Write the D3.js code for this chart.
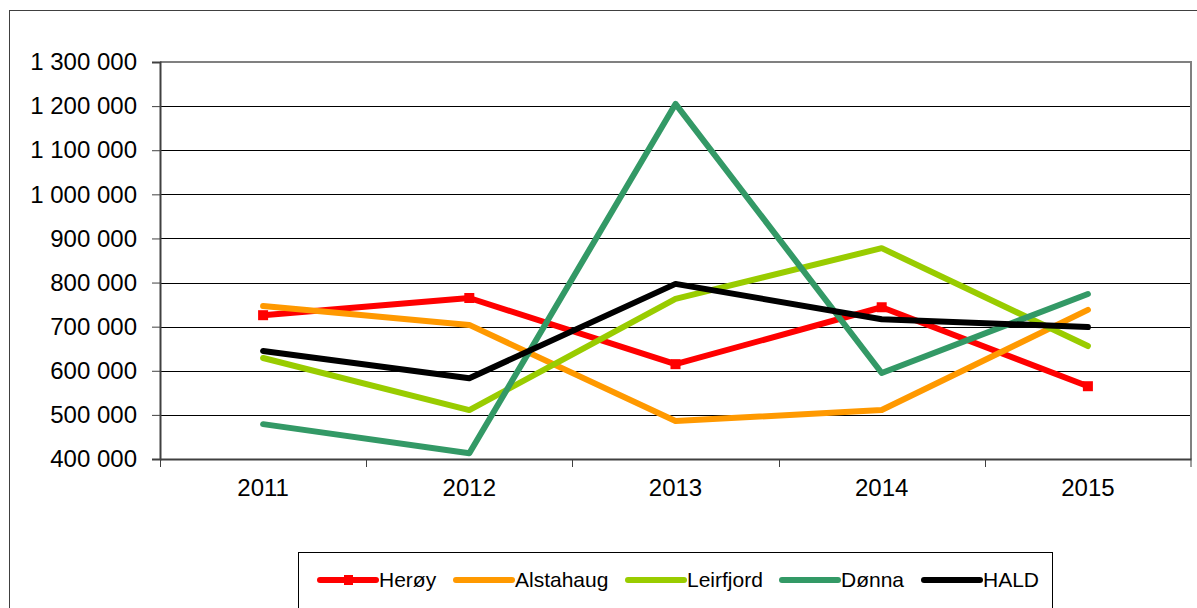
<!DOCTYPE html>
<html>
<head>
<meta charset="utf-8">
<script src="https://cdn.jsdelivr.net/npm/d3@7"></script>
<style>
  body { margin: 0; background: #fff; }
  svg { display: block; font-family: "Liberation Sans", Arial, sans-serif; }
</style>
</head>
<body>
<svg id="chart"></svg>
<script>
// Data: years and yearly values per municipality
const years = ["2011", "2012", "2013", "2014", "2015"];
const heroy = [726000, 765000, 615000, 744000, 565000];
const alstahaug = [747000, 704000, 486000, 511000, 738000];
const leirfjord = [629000, 511000, 763000, 878000, 656000];
const donna = [479000, 413000, 1205000, 595000, 774000];
const hald = [645000, 583000, 797000, 717000, 699000];
const yTicks = [400000, 500000, 600000, 700000, 800000, 900000, 1000000, 1100000, 1200000, 1300000];

const series = [
    { name: "Herøy", values: heroy, color: "#ff0000", marker: true },
    { name: "Alstahaug", values: alstahaug, color: "#ff9900", marker: false },
    { name: "Leirfjord", values: leirfjord, color: "#99cc00", marker: false },
    { name: "Dønna", values: donna, color: "#339966", marker: false },
    { name: "HALD", values: hald, color: "#000000", marker: false }
];

const width = 1197;
const height = 608;
const margin = { top: 62, right: 6, bottom: 149, left: 160 };

const svg = d3.select("#chart")
    .attr("width", width)
    .attr("height", height);

// outer chart frame (runs off the picture at right and bottom)
svg.append("rect")
    .attr("x", 9.5).attr("y", 10.5)
    .attr("width", width + 20).attr("height", height + 20)
    .attr("fill", "none").attr("stroke", "#404040").attr("stroke-width", 1);

const x = d3.scaleBand()
    .domain(years)
    .range([margin.left, width - margin.right]);

const y = d3.scaleLinear()
    .domain([400000, 1300000])
    .range([height - margin.bottom, margin.top]);

const fmt = v => d3.format(",")(v).replace(/,/g, " ");

// gridlines
svg.append("g")
    .selectAll("line")
    .data(yTicks.slice(1, -1))
    .join("line")
    .attr("x1", margin.left).attr("x2", width - margin.right)
    .attr("y1", d => Math.round(y(d)) + 0.5).attr("y2", d => Math.round(y(d)) + 0.5)
    .attr("stroke", "#000").attr("stroke-width", 1);

// plot area border (top and right)
svg.append("path")
    .attr("d", `M${margin.left},${y(1300000)}H${width - margin.right}V${y(400000)}`)
    .attr("fill", "none").attr("stroke", "#808080").attr("stroke-width", 2);

// y axis
const yAxis = svg.append("g")
    .attr("transform", `translate(${margin.left},0)`)
    .call(d3.axisLeft(y).tickValues(yTicks).tickFormat(fmt).tickSize(8).tickPadding(15));
yAxis.select(".domain").attr("stroke", "#404040").attr("stroke-width", 2);
yAxis.selectAll(".tick line").attr("stroke", "#404040");
yAxis.selectAll("text").style("font-size", "24px").attr("fill", "#000");

// x axis
const xAxis = svg.append("g")
    .attr("transform", `translate(0,${height - margin.bottom})`)
    .call(d3.axisBottom(x).tickSize(0).tickPadding(20));
xAxis.select(".domain").attr("stroke", "#404040").attr("stroke-width", 2);
xAxis.selectAll("text").style("font-size", "24px").attr("fill", "#000");

// tick marks between categories
svg.append("g")
    .selectAll("line")
    .data(years.concat(["end"]))
    .join("line")
    .attr("x1", (d, i) => i < years.length ? Math.round(x(d)) + 0.5 : width - margin.right)
    .attr("x2", (d, i) => i < years.length ? Math.round(x(d)) + 0.5 : width - margin.right)
    .attr("y1", height - margin.bottom)
    .attr("y2", height - margin.bottom + 8)
    .attr("stroke", "#404040").attr("stroke-width", 1);

const line = d3.line()
    .x((d, i) => x(years[i]) + x.bandwidth() / 2)
    .y(d => y(d));

// lines
series.forEach(s => {
    svg.append("path")
        .datum(s.values)
        .attr("d", line)
        .attr("fill", "none")
        .attr("stroke", s.color)
        .attr("stroke-width", 6)
        .attr("stroke-linejoin", "round")
        .attr("stroke-linecap", "round");
    if (s.marker) {
        svg.selectAll(null)
            .data(s.values)
            .join("rect")
            .attr("x", (d, i) => x(years[i]) + x.bandwidth() / 2 - 5)
            .attr("y", d => y(d) - 5)
            .attr("width", 10).attr("height", 10)
            .attr("fill", s.color);
    }
});

// legend
const legend = svg.append("g");
legend.append("rect")
    .attr("x", 298.5).attr("y", 552.5)
    .attr("width", 754).attr("height", 60)
    .attr("fill", "#fff").attr("stroke", "#000").attr("stroke-width", 1);

const legendX = [320, 456, 628, 782, 924];
series.forEach((s, i) => {
    const g = legend.append("g").attr("transform", `translate(${legendX[i]},580)`);
    g.append("line")
        .attr("x1", 0).attr("x2", 56)
        .attr("stroke", s.color).attr("stroke-width", 6)
        .attr("stroke-linecap", "round");
    if (s.marker) {
        g.append("rect")
            .attr("x", 24).attr("y", -5).attr("width", 9).attr("height", 10)
            .attr("fill", s.color);
    }
    g.append("text")
        .attr("x", 59).attr("dy", "0.35em")
        .style("font-size", "21px")
        .attr("fill", "#000")
        .text(s.name);
});
</script>
</body>
</html>
